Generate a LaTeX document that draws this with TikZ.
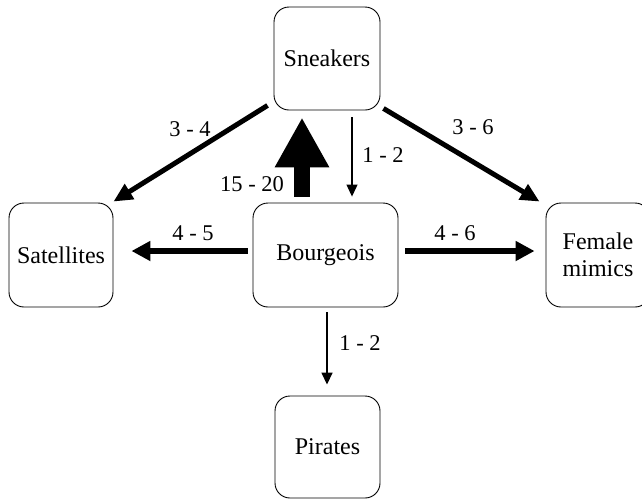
\documentclass[tikz,border=0pt]{standalone}
\usepackage{fontspec}
\setmainfont{Liberation Serif}
\usetikzlibrary{arrows.meta}
\begin{document}
\begin{tikzpicture}[x=1pt,y=-1pt,
  box/.style={draw,line width=0.9pt,rounded corners=15pt,align=center,
    font=\fontsize{24}{27}\selectfont,inner sep=0pt},
  lab/.style={font=\fontsize{22.5}{24}\selectfont,inner sep=0pt},
  thickarr/.style={line width=6pt,-{Triangle[length=19pt,width=19pt]}},
  diagarr/.style={line width=5pt,-{Triangle[length=19pt,width=17pt]}},
  thinarr/.style={line width=1.2pt,-{Triangle[length=12pt,width=11pt]}}]
\useasboundingbox (0,0) rectangle (642,499);
\node[box,minimum width=106pt,minimum height=103pt] (sn) at (327,58.5) {Sneakers};
\node[box,minimum width=104pt,minimum height=104pt] (sat) at (61,255) {Satellites};
\node[box,minimum width=145pt,minimum height=104pt] (bo) at (325.5,255) {Bourgeois};
\node[box,minimum width=104pt,minimum height=104pt] (fem) at (598,255) {Female\\mimics};
\node[box,minimum width=105pt,minimum height=102pt] (pir) at (327.5,447) {Pirates};
% arrows
\draw[diagarr] ([shift={(-6pt,5pt)}]sn.south west) -- ([shift={(0pt,1pt)}]sat.north east);
\draw[diagarr] ([shift={(3pt,2pt)}]sn.south east) -- ([shift={(-6pt,1pt)}]fem.north west);
\draw[line width=16pt,-{Triangle[length=50pt,width=51pt]}] ([shift={(-23.5pt,6pt)}]bo.north) -- ([shift={(-25pt,-7pt)}]sn.south);
\draw[thinarr] ([shift={(25pt,-7pt)}]sn.south) -- ([shift={(26.5pt,6pt)}]bo.north);
\draw[thickarr] ([shift={(-5pt,4pt)}]bo.west) -- ([shift={(18pt,4pt)}]sat.east);
\draw[thickarr] ([shift={(7pt,4pt)}]bo.east) -- ([shift={(-11pt,4pt)}]fem.west);
\draw[thinarr,line width=1.5pt] ([shift={(1.5pt,-5pt)}]bo.south) -- ([shift={(-0.5pt,11pt)}]pir.north);
% labels
\node[lab] (l1) at (190,129) {3 - 4};
\node[lab] (l2) at (473,127) {3 - 6};
\node[lab] (l3) at (252,184) {15 - 20};
\node[lab] (l4) at (383,155) {1 - 2};
\node[lab] (l5) at (193,233) {4 - 5};
\node[lab] (l6) at (455,233) {4 - 6};
\node[lab] (l7) at (360,343) {1 - 2};
\end{tikzpicture}
\end{document}
